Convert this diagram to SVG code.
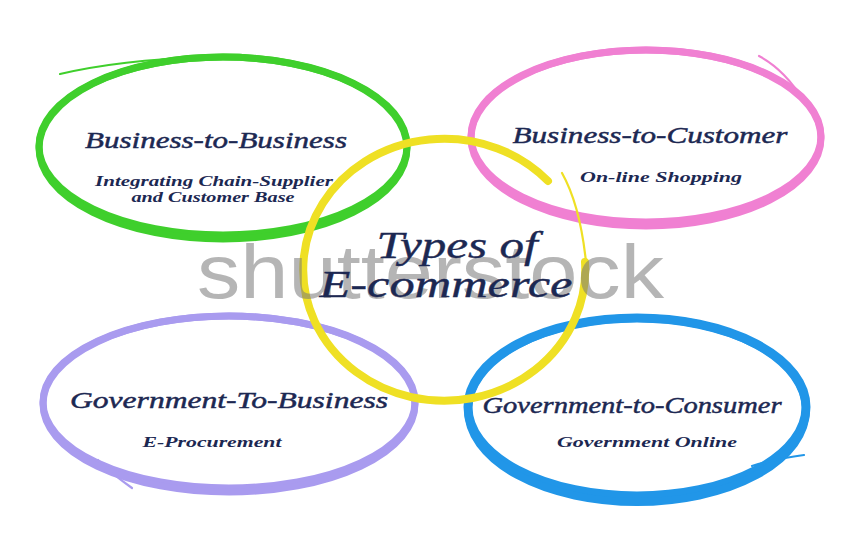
<svg xmlns="http://www.w3.org/2000/svg" width="849" height="537" viewBox="0 0 849 537">
  <style>
    .ring { fill: none; stroke-linecap: round; }
    .tail { fill: none; stroke-linecap: round; stroke-width: 2.2; }
    .head { font-family: "Liberation Serif", "DejaVu Serif", serif; font-style: italic; font-size: 23px; fill: #1c2852; stroke: #1c2852; stroke-width: 0.45; text-anchor: middle; }
    .sub { font-family: "Liberation Serif", "DejaVu Serif", serif; font-style: italic; font-weight: bold; font-size: 15px; fill: #1c2852; text-anchor: middle; }
    .title { font-family: "Liberation Serif", "DejaVu Serif", serif; font-style: italic; font-size: 37px; fill: #1c2852; stroke: #1c2852; stroke-width: 0.4; text-anchor: middle; }
    .mark { font-family: "Liberation Sans", Arial, sans-serif; font-size: 76px; fill: #7a7a7a; opacity: 0.55; }
  </style>

  <rect width="849" height="537" fill="#ffffff"/>

  <!-- Business-to-Business -->
  <g id="b2b">
    <ellipse class="ring" cx="223" cy="146" rx="184" ry="89" stroke="#3fcf2c" stroke-width="7"/>
    <ellipse class="ring" cx="223" cy="148" rx="184" ry="91" stroke="#3fcf2c" stroke-width="7"/>
    <path class="tail" d="M60,74 Q120,60 205,57" stroke="#3fcf2c"/>
    <text class="head" x="216" y="148" textLength="262" lengthAdjust="spacingAndGlyphs">Business-to-Business</text>
    <text class="sub" x="214" y="186" textLength="238" lengthAdjust="spacingAndGlyphs">Integrating Chain-Supplier</text>
    <text class="sub" x="213" y="202" textLength="163" lengthAdjust="spacingAndGlyphs">and Customer Base</text>
  </g>

  <!-- Business-to-Customer -->
  <g id="b2c">
    <ellipse class="ring" cx="646" cy="136" rx="175" ry="86" stroke="#f080d2" stroke-width="7"/>
    <ellipse class="ring" cx="646" cy="138" rx="175" ry="88" stroke="#f080d2" stroke-width="7"/>
    <path class="tail" d="M759,56 Q785,70 803,100" stroke="#f080d2"/>
    <text class="head" x="650" y="143" textLength="275" lengthAdjust="spacingAndGlyphs">Business-to-Customer</text>
    <text class="sub" x="661" y="182" textLength="162" lengthAdjust="spacingAndGlyphs">On-line Shopping</text>
  </g>

  <!-- Government-To-Business -->
  <g id="g2b">
    <ellipse class="ring" cx="229" cy="402" rx="186" ry="86" stroke="#a99bef" stroke-width="7"/>
    <ellipse class="ring" cx="229" cy="404" rx="186" ry="88" stroke="#a99bef" stroke-width="7"/>
    <path class="tail" d="M98,460 Q112,474 132,488" stroke="#a99bef"/>
    <text class="head" x="229" y="408" textLength="318" lengthAdjust="spacingAndGlyphs">Government-To-Business</text>
    <text class="sub" x="212" y="447" textLength="139" lengthAdjust="spacingAndGlyphs">E-Procurement</text>
  </g>

  <!-- Government-to-Consumer -->
  <g id="g2c">
    <ellipse class="ring" cx="637" cy="407" rx="169" ry="89" stroke="#2196e8" stroke-width="9"/>
    <ellipse class="ring" cx="637" cy="410" rx="169" ry="92" stroke="#2196e8" stroke-width="8"/>
    <path class="tail" d="M752,466 Q780,458 804,455" stroke="#2196e8"/>
    <text class="head" x="632" y="413" textLength="299" lengthAdjust="spacingAndGlyphs">Government-to-Consumer</text>
    <text class="sub" x="647" y="447" textLength="180" lengthAdjust="spacingAndGlyphs">Government Online</text>
  </g>

  <!-- Central ring -->
  <g id="types">
    <path class="ring" d="M585,262 A141,131 0 1 1 548,181" stroke="#efe024" stroke-width="8"/>
    <path class="tail" d="M562,173 Q580,205 586,262" stroke="#efe024" stroke-width="2"/>
  </g>

  <!-- Stock watermark -->
  <text class="mark" x="197" y="298" textLength="467" lengthAdjust="spacingAndGlyphs">shutterstock</text>

  <g id="types-label">
    <text class="title" x="457" y="258" textLength="161" lengthAdjust="spacingAndGlyphs">Types of</text>
    <text class="title" x="446" y="297" textLength="253" lengthAdjust="spacingAndGlyphs">E-commerce</text>
  </g>
</svg>
